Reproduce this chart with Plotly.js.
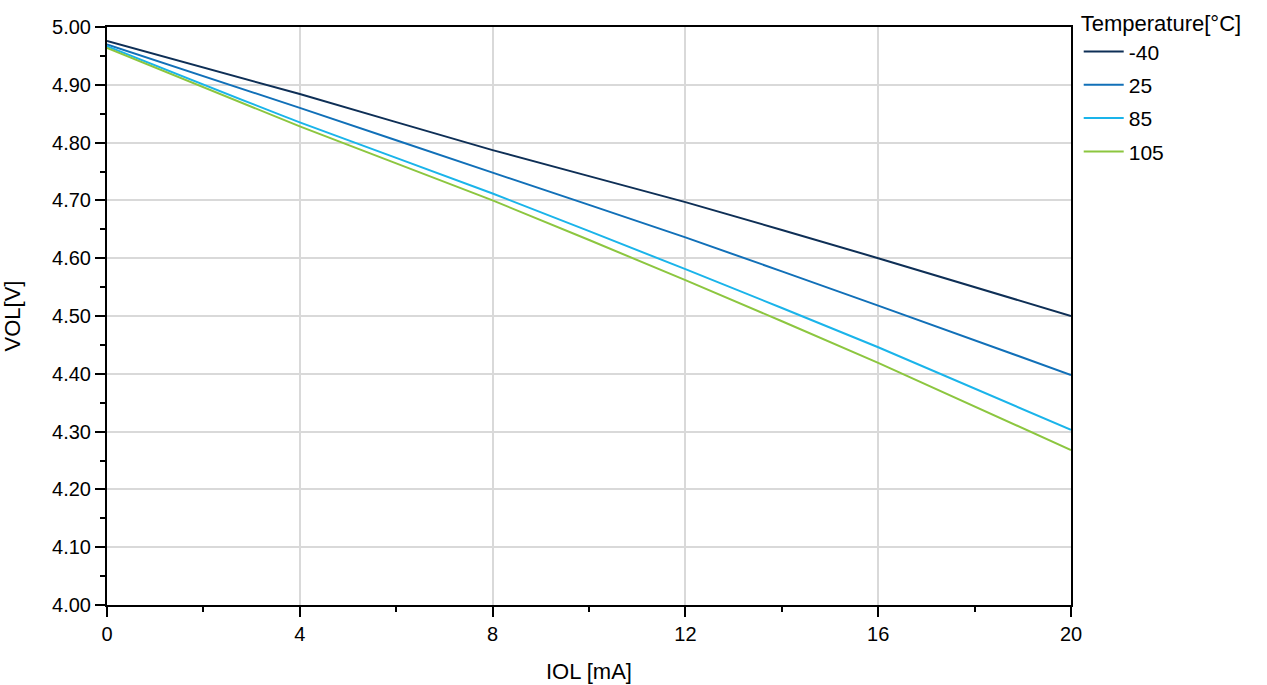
<!DOCTYPE html>
<html>
<head>
<meta charset="utf-8">
<script src="https://cdn.plot.ly/plotly-3.0.1.min.js"></script>
<style>html,body{margin:0;padding:0;background:#fff;}#chart{width:1267px;height:685px;}</style>
</head>
<body>
<div id="chart"></div>
<script>
const iol = [0, 4, 8, 12, 16, 20];
const temperatures = ["-40", "25", "85", "105"];
const vol_m40 = [4.976, 4.884, 4.787, 4.697, 4.600, 4.500];
const vol_25  = [4.970, 4.860, 4.748, 4.636, 4.518, 4.398];
const vol_85  = [4.967, 4.835, 4.712, 4.581, 4.446, 4.303];
const vol_105 = [4.964, 4.828, 4.700, 4.562, 4.419, 4.268];
const colors = ["#0e2f56", "#1170b8", "#1ab4ea", "#8cc63f"];
const series = [vol_m40, vol_25, vol_85, vol_105];

const traces = series.map((ys, i) => ({
  x: iol, y: ys, type: "scatter", mode: "lines",
  name: temperatures[i], legendgroup: "g" + i,
  line: {color: colors[i], width: 2, shape: "spline", smoothing: 0.6}
}));

const font = {family: "Liberation Sans, Arial, sans-serif", color: "#000"};
const layout = {
  width: 1267, height: 685,
  margin: {l: 107, r: 196, t: 27, b: 80, autoexpand: false},
  paper_bgcolor: "#fff", plot_bgcolor: "#fff",
  font: Object.assign({size: 20}, font),
  showlegend: true,
  legend: {
    x: 1.008, xanchor: "left", yref: "container", y: 0.996, yanchor: "top",
    title: {text: "Temperature[°C]", font: {size: 22}},
    font: {size: 21}, tracegroupgap: 3, itemwidth: 40,
    bgcolor: "rgba(0,0,0,0)"
  },
  xaxis: {
    range: [0, 20], tick0: 0, dtick: 4,
    ticks: "outside", ticklen: 10, tickwidth: 2, tickcolor: "#000",
    minor: {dtick: 2, ticks: "outside", ticklen: 5, tickwidth: 2, tickcolor: "#000", showgrid: false},
    showgrid: true, gridcolor: "#d9d9d9", gridwidth: 2,
    showline: true, linecolor: "#000", linewidth: 2, mirror: true,
    zeroline: false, tickfont: {size: 20},
    title: {text: "IOL [mA]", font: {size: 22}, standoff: 20}
  },
  yaxis: {
    range: [4, 5], tick0: 4, dtick: 0.1, tickformat: ".2f",
    ticks: "outside", ticklen: 10, tickwidth: 2, tickcolor: "#000",
    minor: {dtick: 0.05, ticks: "outside", ticklen: 5, tickwidth: 2, tickcolor: "#000", showgrid: false},
    showgrid: true, gridcolor: "#d9d9d9", gridwidth: 2,
    showline: true, linecolor: "#000", linewidth: 2, mirror: true,
    zeroline: false, tickfont: {size: 20},
    title: {text: "VOL[V]", font: {size: 22}, standoff: 25}
  }
};
Plotly.newPlot("chart", traces, layout, {displayModeBar: false, staticPlot: true});
</script>
</body>
</html>
